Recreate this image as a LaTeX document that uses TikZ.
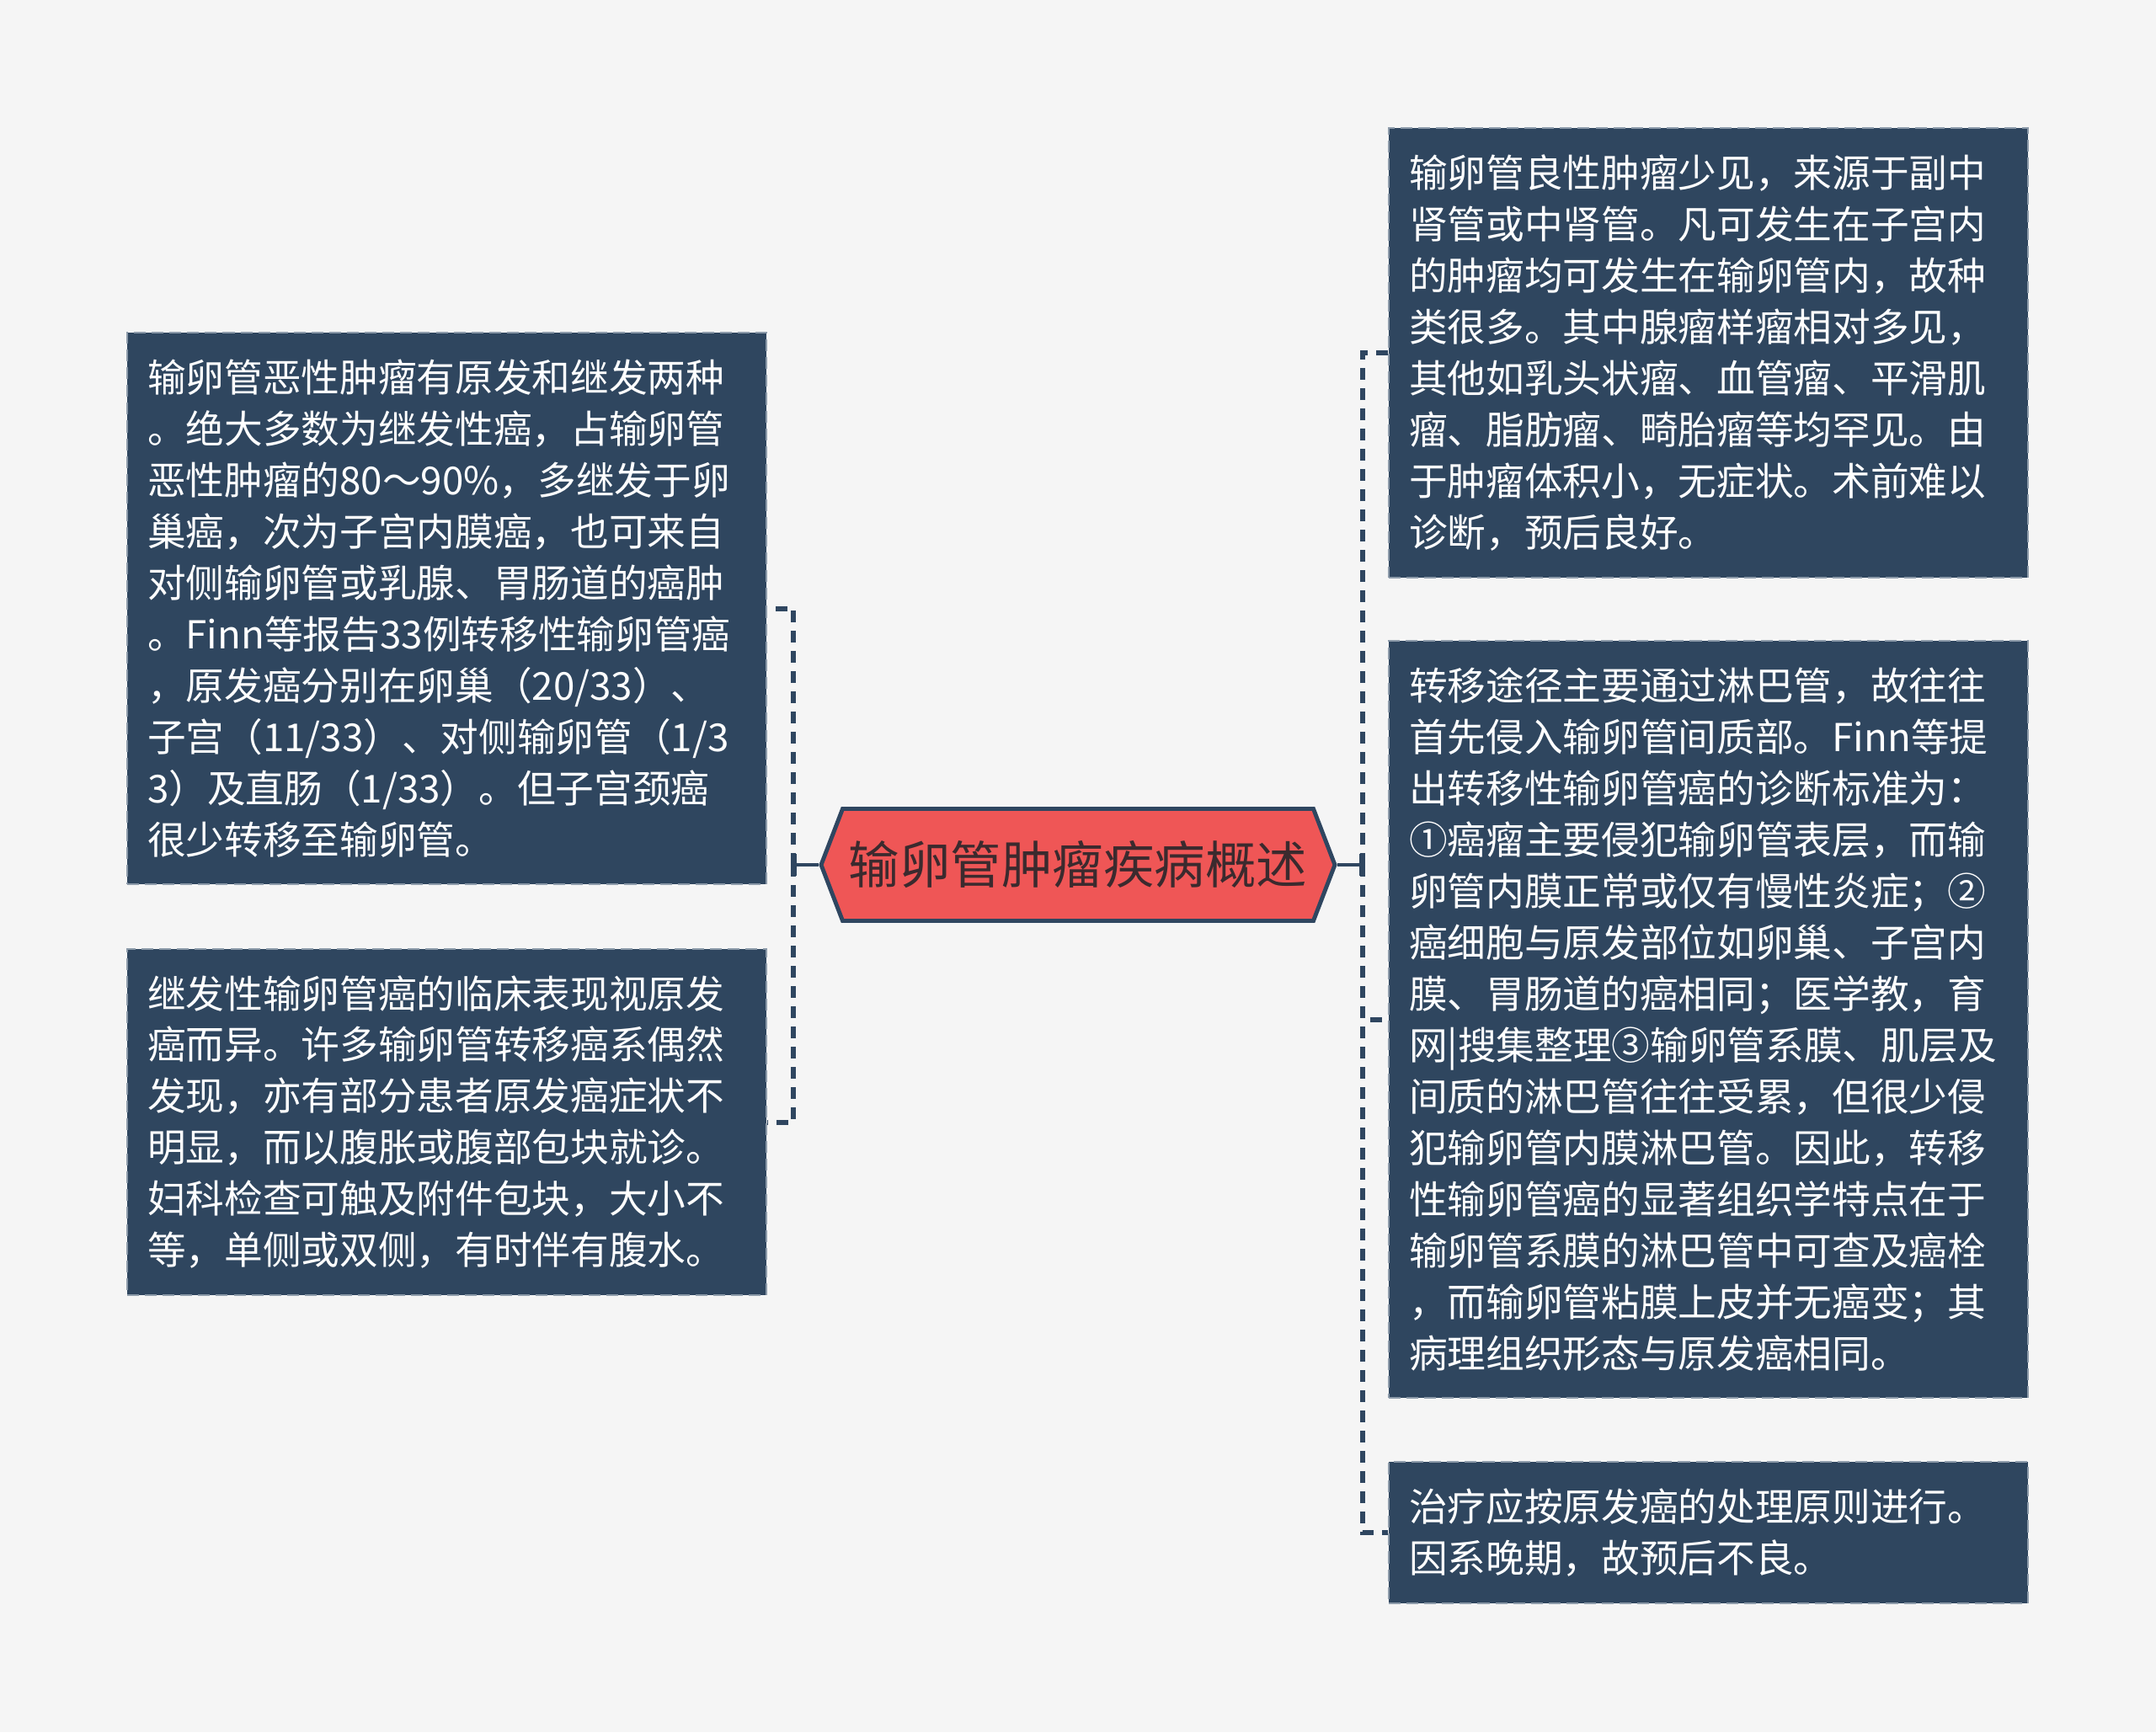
\documentclass[tikz,border=0pt]{standalone}
\usepackage{fontspec}
\setmainfont{Noto Sans CJK SC}
\usetikzlibrary{arrows.meta, shapes.symbols, positioning}

\definecolor{bgcol}{HTML}{F5F5F5}
\definecolor{boxcol}{HTML}{2F465F}
\definecolor{rootcol}{HTML}{EF5656}
\definecolor{rootink}{HTML}{3B2A2E}
\definecolor{linkcol}{HTML}{2F4660}
\definecolor{edgecol}{HTML}{8D9BAA}

\tikzset{
	leaf/.style={rectangle, fill=boxcol, draw=edgecol, dash pattern=on 4pt off 2pt, line width=0.6pt,
		text=white, align=left, text width=7.11cm, minimum width=7.59cm, inner xsep=0.24cm, inner ysep=0pt,
		font=\fontsize{13pt}{17.35pt}\selectfont},
	topic/.style={shape=signal, signal to=west and east, signal pointer angle=138, fill=rootcol, draw=linkcol,
		line width=1.4pt, text=rootink, minimum width=6.1cm, minimum height=1.33cm, inner sep=0pt,
		font=\fontsize{17.2pt}{20pt}\selectfont},
	link/.style={draw=linkcol, line width=1.1pt},
	branch/.style={draw=linkcol, line width=1.7pt, dash pattern=on 0.14cm off 0.1cm}
}

\begin{document}
\begin{tikzpicture}
	\fill[bgcol] (0,0) rectangle (25.6,-20.57);
	\useasboundingbox (0,0) rectangle (25.6,-20.57);

	% nodes %
	\node[topic] (root) at (12.80,-10.27) {输卵管肿瘤疾病概述};
	\coordinate[left of = root, node distance=3.38cm] (lj);
	\coordinate[right of = root, node distance=3.38cm] (rj);

	\node[leaf, left of = root, node distance=7.495cm, yshift=3.045cm, minimum height=6.55cm] (malig) {输卵管恶性肿瘤有原发和继发两种\\
		。绝大多数为继发性癌，占输卵管\\
		恶性肿瘤的80～90\%，多继发于卵\\
		巢癌，次为子宫内膜癌，也可来自\\
		对侧输卵管或乳腺、胃肠道的癌肿\\
		。Finn等报告33例转移性输卵管癌\\
		，原发癌分别在卵巢（20/33）、\\
		子宫（11/33）、对侧输卵管（1/3\\
		3）及直肠（1/33）。但子宫颈癌\\
		很少转移至输卵管。};
	\node[leaf, left of = root, node distance=7.495cm, yshift=-3.055cm, minimum height=4.11cm] (clinic) {继发性输卵管癌的临床表现视原发\\
		癌而异。许多输卵管转移癌系偶然\\
		发现，亦有部分患者原发癌症状不\\
		明显，而以腹胀或腹部包块就诊。\\
		妇科检查可触及附件包块，大小不\\
		等，单侧或双侧，有时伴有腹水。};

	\node[leaf, right of = root, node distance=7.485cm, yshift=6.08cm, minimum height=5.34cm] (benign) {输卵管良性肿瘤少见，来源于副中\\
		肾管或中肾管。凡可发生在子宫内\\
		的肿瘤均可发生在输卵管内，故种\\
		类很多。其中腺瘤样瘤相对多见，\\
		其他如乳头状瘤、血管瘤、平滑肌\\
		瘤、脂肪瘤、畸胎瘤等均罕见。由\\
		于肿瘤体积小，无症状。术前难以\\
		诊断，预后良好。};
	\node[leaf, right of = root, node distance=7.485cm, yshift=-1.835cm, minimum height=8.99cm] (spread) {转移途径主要通过淋巴管，故往往\\
		首先侵入输卵管间质部。Finn等提\\
		出转移性输卵管癌的诊断标准为：\\
		①癌瘤主要侵犯输卵管表层，而输\\
		卵管内膜正常或仅有慢性炎症；②\\
		癌细胞与原发部位如卵巢、子宫内\\
		膜、胃肠道的癌相同；医学教，育\\
		网|搜集整理③输卵管系膜、肌层及\\
		间质的淋巴管往往受累，但很少侵\\
		犯输卵管内膜淋巴管。因此，转移\\
		性输卵管癌的显著组织学特点在于\\
		输卵管系膜的淋巴管中可查及癌栓\\
		，而输卵管粘膜上皮并无癌变；其\\
		病理组织形态与原发癌相同。};
	\node[leaf, right of = root, node distance=7.485cm, yshift=-7.93cm, minimum height=1.68cm] (treat) {治疗应按原发癌的处理原则进行。\\
		因系晚期，故预后不良。};

	% edges %
	\draw[branch] (lj) |- (malig.east);
	\draw[branch] (lj) |- (clinic.east);
	\draw[branch] (rj) |- (benign.west);
	\draw[branch] (rj) |- (spread.west);
	\draw[branch] (rj) |- (treat.west);
	\draw[link, -{Bar[width=2.6mm]}] (root.west) -- (lj);
	\draw[link, -{Bar[width=2.6mm]}] (root.east) -- (rj);
\end{tikzpicture}
\end{document}
